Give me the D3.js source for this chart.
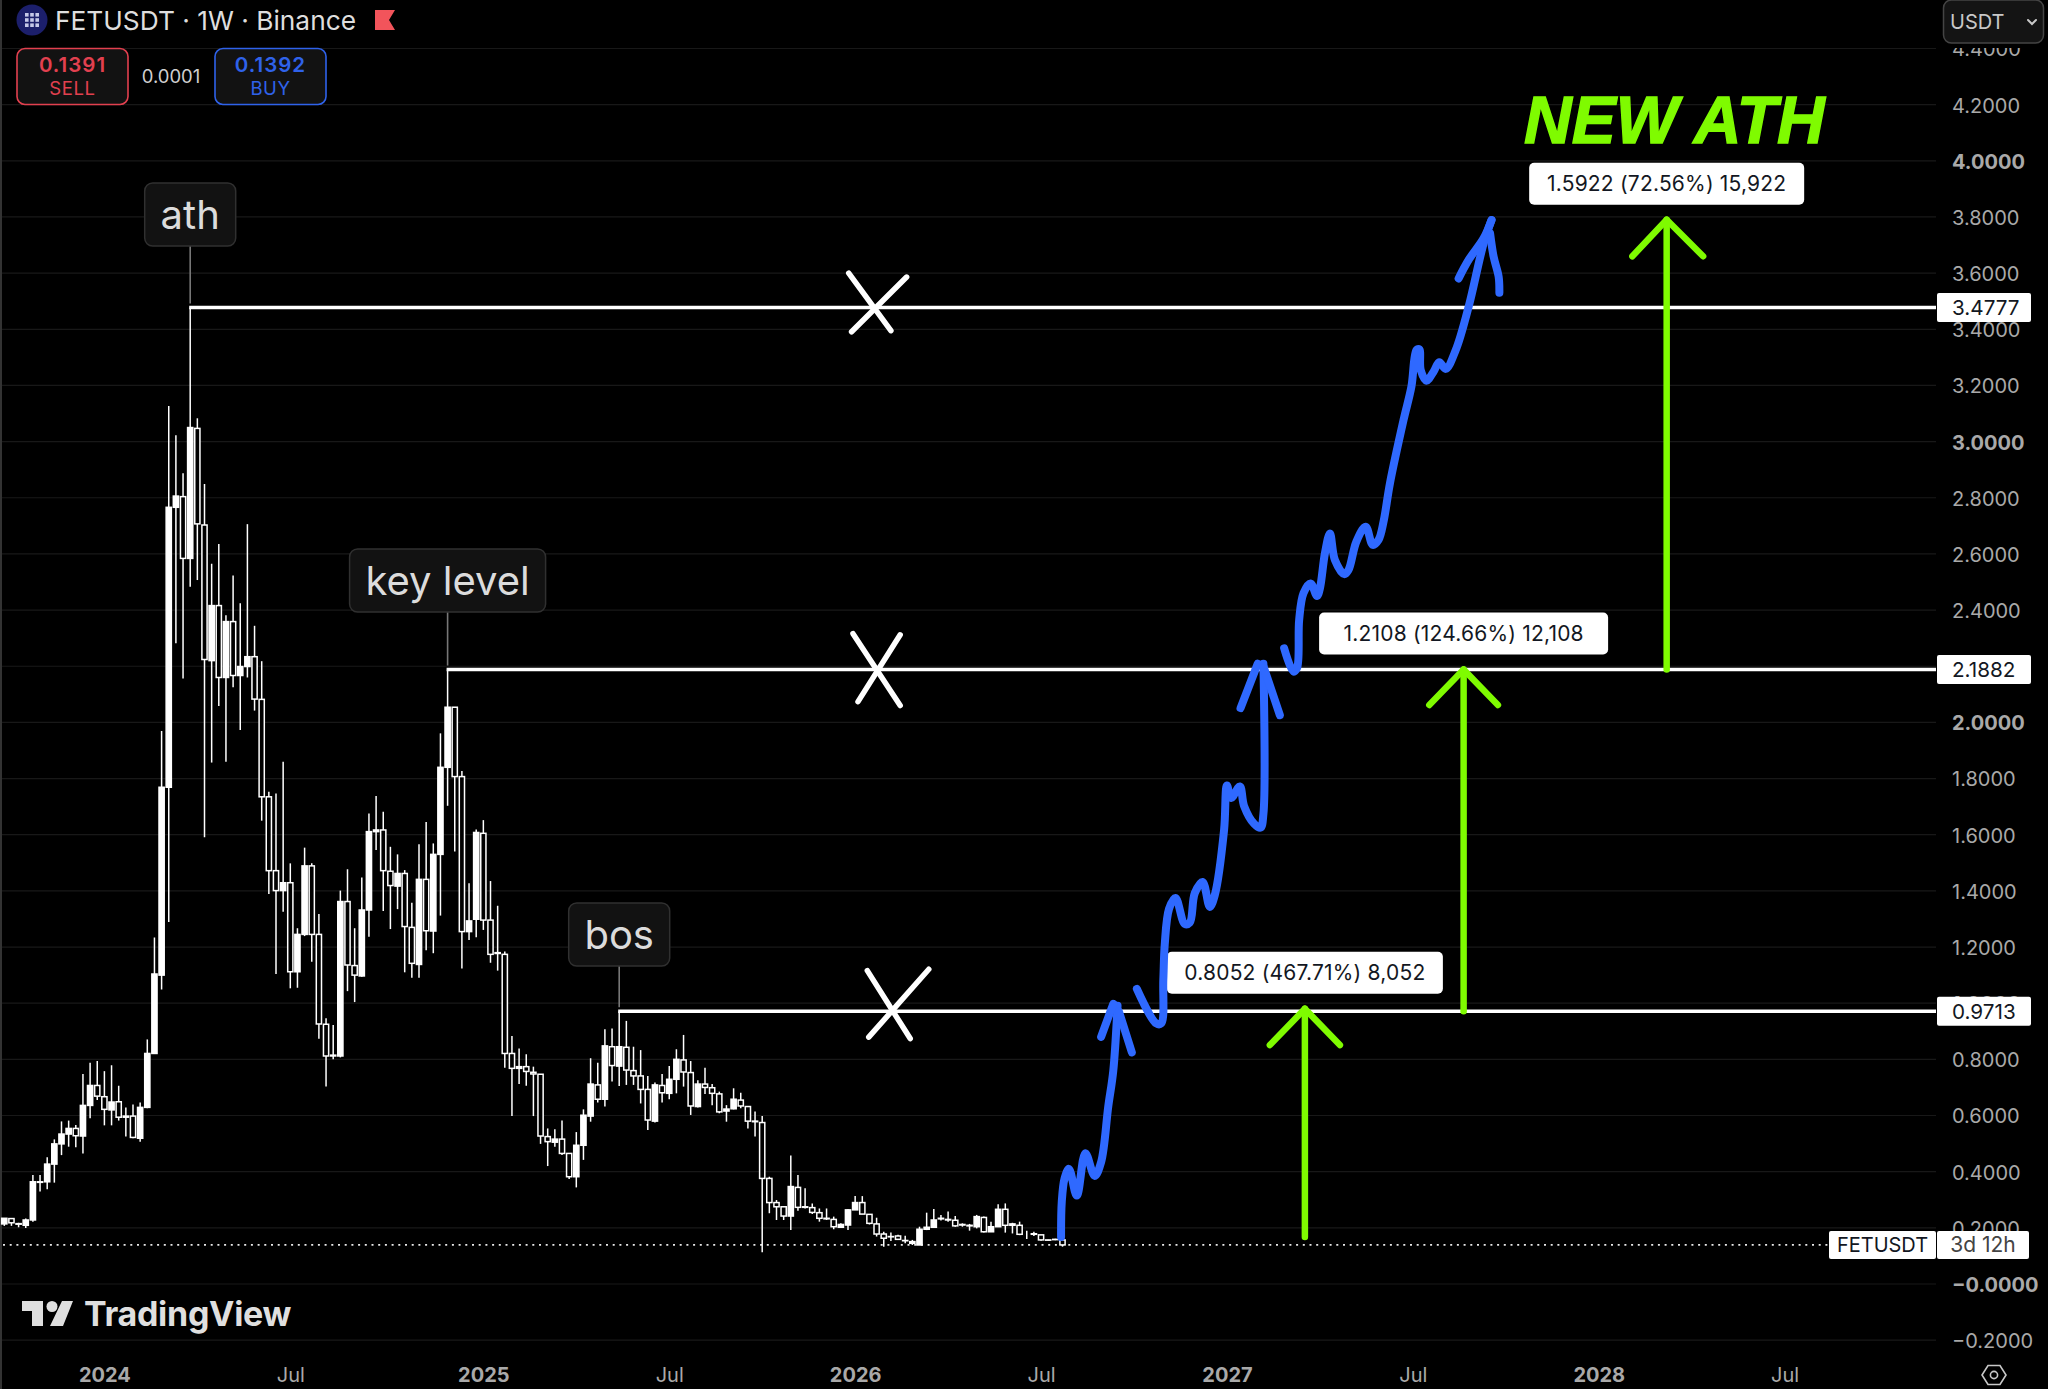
<!DOCTYPE html>
<html>
<head>
<meta charset="utf-8">
<script src="https://cdn.jsdelivr.net/npm/d3@7"></script>
<style>
  html, body { margin: 0; padding: 0; background: #000; }
  svg { display: block; }
  text { font-family: Inter, "Noto Sans", sans-serif; }
</style>
</head>
<body>
<div id="chart"></div>
<script>
// weekly candles
var opens = [
  .214,.233,.215,.209,.228,.364,.364,.427,.499,.534,
  .554,.527,.636,.707,.667,.62,.649,.594,.598,.519,
  .629,.821,1.10,1.769,2.766,2.804,2.584,3.047,2.703,2.22,
  2.416,2.16,2.359,2.167,2.199,2.234,2.082,1.735,1.472,1.401,
  1.429,1.112,1.245,1.489,1.245,.925,.812,.812,1.362,1.134,
  1.097,1.332,1.611,1.617,1.47,1.417,1.462,1.27,1.138,1.441,
  1.257,1.53,1.84,2.054,1.807,1.255,1.299,1.605,1.296,1.177,
  1.174,.821,.768,.774,.754,.747,.525,.505,.516,.465,
  .382,.494,.598,.709,.658,.845,.776,.843,.76,.741,
  .693,.58,.707,.679,.729,.798,.753,.632,.712,.699,
  .677,.616,.624,.655,.632,.58,.575,.376,.29,.275,
  .242,.344,.275,.272,.254,.234,.23,.202,.21,.264,
  .29,.248,.214,.178,.169,.171,.154,.145,.139,.195,
  .202,.234,.23,.227,.212,.209,.204,.237,.186,.204,
  .266,.209,.209,.178,.179,.175,.157,.159,.157
];
var closes = [
  .234,.218,.213,.228,.364,.362,.427,.499,.534,.554,
  .528,.636,.707,.669,.622,.648,.594,.598,.522,.629,
  .821,1.104,1.769,2.766,2.806,2.584,3.05,2.707,2.224,2.416,
  2.16,2.359,2.167,2.199,2.234,2.083,1.735,1.472,1.401,1.429,
  1.112,1.245,1.489,1.245,.926,.812,.815,1.362,1.136,1.10,
  1.332,1.611,1.617,1.472,1.419,1.462,1.273,1.142,1.441,1.258,
  1.53,1.84,2.054,1.807,1.255,1.293,1.608,1.296,1.174,1.18,
  .821,.768,.774,.757,.748,.527,.507,.516,.465,.382,
  .494,.601,.712,.658,.848,.778,.845,.762,.741,.693,
  .584,.709,.681,.729,.8,.755,.634,.712,.7,.679,
  .613,.623,.658,.634,.58,.578,.376,.29,.275,.242,
  .347,.273,.273,.255,.234,.232,.204,.212,.264,.29,
  .249,.216,.178,.163,.168,.159,.155,.151,.195,.202,
  .228,.232,.228,.207,.21,.207,.24,.186,.204,.266,
  .209,.214,.177,.178,.177,.157,.156,.158,.1392
];
var highs = [
  .234,.235,.218,.233,.388,.388,.451,.515,.579,.582,
  .566,.748,.788,.794,.758,.779,.706,.629,.639,.646,
  .871,1.234,1.969,3.127,3.023,2.887,3.4777,3.083,2.849,2.565,
  2.635,2.382,2.523,2.424,2.706,2.344,2.218,1.753,1.747,1.86,
  1.498,1.267,1.554,1.498,1.318,.946,.922,1.401,1.477,1.267,
  1.448,1.676,1.738,1.682,1.557,1.53,1.474,1.358,1.566,1.645,
  1.569,1.961,2.1882,2.054,1.827,1.427,1.619,1.652,1.435,1.347,
  1.184,.883,.839,.818,.774,.747,.554,.551,.582,.465,
  .541,.622,.804,.788,.907,.91,.9713,.937,.845,.833,
  .741,.718,.748,.776,.836,.887,.794,.726,.77,.712,
  .685,.637,.697,.681,.632,.614,.598,.382,.299,.275,
  .458,.388,.341,.287,.269,.269,.24,.216,.266,.313,
  .313,.248,.236,.186,.183,.175,.172,.157,.204,.254,
  .267,.246,.258,.242,.216,.214,.246,.24,.222,.284,
  .287,.218,.222,.19,.186,.175,.158,.161,.161
];
var lows = [
  .207,.207,.202,.199,.222,.329,.337,.361,.459,.489,
  .487,.465,.59,.655,.565,.565,.582,.525,.519,.507,
  .626,.82,1.049,1.289,2.282,2.156,2.483,2.507,1.591,1.857,
  2.058,1.86,2.125,1.973,2.16,2.042,1.65,1.389,1.104,1.326,
  1.053,1.055,1.239,1.148,.873,.703,.8,.807,1.043,1.004,
  1.094,1.237,1.546,1.328,1.264,1.335,1.11,1.091,1.091,1.189,
  1.178,1.312,1.703,1.54,1.124,1.225,1.235,1.261,1.144,1.116,
  .77,.598,.712,.706,.598,.499,.42,.489,.459,.374,
  .344,.442,.578,.646,.632,.721,.705,.709,.709,.643,
  .548,.575,.646,.658,.679,.703,.602,.629,.677,.637,
  .608,.578,.622,.626,.554,.525,.113,.252,.228,.228,
  .192,.261,.269,.249,.222,.228,.195,.2,.192,.264,
  .249,.212,.169,.133,.153,.157,.145,.139,.139,.192,
  .202,.226,.222,.204,.204,.19,.198,.183,.186,.204,
  .183,.18,.174,.16,.171,.154,.155,.156,.133
];

// axis ticks
var priceTicks = [4.4,4.2,4,3.8,3.6,3.4,3.2,3,2.8,2.6,2.4,2.2,2,1.8,1.6,1.4,1.2,1,.8,.6,.4,.2,0,-.2];
var timeTicks = [14,40,67,93,119,145,171,197,223,249];
var timeLabels = ["2024","Jul","2025","Jul","2026","Jul","2027","Jul","2028","Jul"];

// horizontal levels: [start candle, price, label]
var levelStart = [26,62,86];
var levelPrice = [3.4777,2.1882,.9713];
var levelNames = ["ath","key level","bos"];
var lastPrice = .1392;

// hand drawn blue projection, [candle, price]
var blueStrokes = [
  [[147.8,.167],[147.9,.294],[148.3,.377],[148.9,.41],[150,.315],[151.2,.466],[152.5,.385],[153.4,.434],[154.4,.632],[155.1,.759],[155.7,.991]],
  [[153.4,.88],[155.1,.998]],
  [[155.9,.97],[157.7,.825]],
  [[158.4,1.051],[161.1,.928],[161.8,.928],[162.1,1.083],[162.3,1.209],[162.9,1.336],[163.8,1.375],[165.1,1.282],[165.8,1.287],[166.5,1.392],[167.6,1.432],[168.6,1.343],[169.3,1.385],[170.6,1.617],[171,1.775],[171.6,1.731],[172.8,1.772],[173.4,1.702],[174.8,1.639],[175.7,1.625],[176.1,1.674],[176.1,2.209]],
  [[172.9,2.051],[175.3,2.209]],
  [[176.1,2.2],[178.4,2.026]],
  [[179,2.264],[180.3,2.181],[180.8,2.193],[181.1,2.365],[181.7,2.46],[182.7,2.495],[183.6,2.45],[184,2.477],[184.7,2.602],[185.4,2.673],[186.1,2.578],[187.4,2.528],[188,2.543],[189.1,2.644],[190.4,2.697],[191.4,2.632],[192.2,2.65],[192.9,2.715],[193.8,2.852],[195.7,3.077],[196.8,3.196],[197.5,3.326],[197.9,3.329],[198.1,3.255],[198.9,3.217],[199.9,3.249],[200.7,3.283],[201.6,3.259],[203,3.326],[204.8,3.48],[206.9,3.706],[208,3.789]],
  [[203.4,3.581],[204.8,3.647],[206.9,3.724],[208,3.789]],
  [[207.8,3.742],[208.3,3.658],[209,3.587],[209.1,3.53]]
];

// white crosses on the levels, [candle, price]
var crossStrokes = [
  [[118.1,3.6],[124,3.395]],
  [[126.2,3.586],[118.5,3.391]],
  [[118.7,2.316],[125.3,2.06]],
  [[125.3,2.312],[119.4,2.074]],
  [[120.7,1.116],[126.7,.874]],
  [[129.3,1.121],[120.9,.879]]
];

// green target arrows
var arrowX = [181.9,204.1,232.5];
var arrowFrom = [.167,.9713,2.1882];
var arrowTo = [.98,2.1882,3.79];
var arrowBarbY = [.851,2.062,3.66];
var arrowBarbL = [177,199.3,227.7];
var arrowBarbR = [186.8,208.9,237.6];
var arrowText = ["0.8052 (467.71%) 8,052","1.2108 (124.66%) 12,108","1.5922 (72.56%) 15,922"];

var width = 2048, height = 1389, plotRight = 1936;

var svg = d3.select("#chart").append("svg")
    .attr("width", width)
    .attr("height", height)
    .style("background", "#000");

var x = d3.scaleLinear().domain([0, 260]).range([4.3, 1863.3]);
var y = d3.scaleLinear().domain([0, 4]).range([1284, 160.8]);

// left edge and grid
svg.append("rect").attr("width", 2).attr("height", height).attr("fill", "#333");
svg.append("g").selectAll("line").data(priceTicks).enter().append("line")
    .attr("x1", 2).attr("x2", plotRight)
    .attr("y1", function(d) { return y(d); })
    .attr("y2", function(d) { return y(d); })
    .attr("stroke", "#181818").attr("stroke-width", 1.2);

// price axis
var yAxis = svg.append("g")
    .attr("transform", "translate(" + (plotRight + 1) + ",1)")
    .call(d3.axisRight(y).tickValues(priceTicks).tickSize(0).tickPadding(15)
      .tickFormat(function(d) {
        return (d <= 0 ? "\u2212" : "") + Math.abs(d).toFixed(4);
      }));
yAxis.select(".domain").remove();
yAxis.selectAll("text")
    .style("font-family", "Inter").style("font-size", "20px")
    .attr("fill", "#a9a9a9")
    .style("font-weight", function(d) { return d === Math.round(d) ? 700 : 400; });

// time axis
var xAxis = svg.append("g")
    .attr("transform", "translate(0,1365)")
    .call(d3.axisBottom(x).tickValues(timeTicks).tickSize(0).tickPadding(3)
      .tickFormat(function(d, i) { return timeLabels[i]; }));
xAxis.select(".domain").remove();
xAxis.selectAll("text")
    .style("font-family", "Inter").style("font-size", "20px")
    .attr("fill", "#a9a9a9")
    .style("font-weight", function(d, i) { return timeLabels[i] === "Jul" ? 400 : 700; });

// current price dots
svg.append("line")
    .attr("x1", 3).attr("x2", 1829)
    .attr("y1", y(lastPrice)).attr("y2", y(lastPrice))
    .attr("stroke", "#e8e8e8").attr("stroke-width", 1.6)
    .attr("stroke-dasharray", "2 4.7");

// candles
var candles = svg.append("g").selectAll("g").data(opens).enter().append("g");
candles.append("line")
    .attr("x1", function(d, i) { return x(i); })
    .attr("x2", function(d, i) { return x(i); })
    .attr("y1", function(d, i) { return y(highs[i]); })
    .attr("y2", function(d, i) { return y(lows[i]); })
    .attr("stroke", "#fff").attr("stroke-width", 1.5);
candles.append("rect")
    .attr("x", function(d, i) { return x(i) - 2.6; })
    .attr("width", 5.2)
    .attr("y", function(d, i) { return y(Math.max(d, closes[i])); })
    .attr("height", function(d, i) { return Math.abs(y(d) - y(closes[i])); })
    .attr("fill", function(d, i) { return closes[i] >= d ? "#fff" : "#000"; })
    .attr("stroke", "#fff").attr("stroke-width", 1.5);

// level rays and their callouts
var calloutW = [91,196,101];
levelPrice.forEach(function(p, i) {
  var px = x(levelStart[i]), py = y(p);
  svg.append("line")
    .attr("x1", px - 1).attr("x2", plotRight)
    .attr("y1", py).attr("y2", py)
    .attr("stroke", "#fff").attr("stroke-width", 3.4);
  var top = [183,549,903][i], h = 63;
  svg.append("line")
    .attr("x1", px).attr("x2", px)
    .attr("y1", top + h).attr("y2", py - 4)
    .attr("stroke", "#777").attr("stroke-width", 1.6);
  svg.append("rect")
    .attr("x", px - calloutW[i] / 2).attr("y", top)
    .attr("width", calloutW[i]).attr("height", h).attr("rx", 8)
    .attr("fill", "#121212").attr("stroke", "#303030").attr("stroke-width", 1.5);
  svg.append("text")
    .attr("x", px).attr("y", top + 46)
    .attr("text-anchor", "middle")
    .attr("fill", "#dcdcdc").style("font-size", "40px")
    .text(levelNames[i]);
});

var line = d3.line()
    .x(function(d) { return x(d[0]); })
    .y(function(d) { return y(d[1]); });

// crosses
svg.append("g").selectAll("path").data(crossStrokes).enter().append("path")
    .attr("d", line)
    .attr("fill", "none").attr("stroke", "#fff")
    .attr("stroke-width", 5.5).attr("stroke-linecap", "round");

// green arrows
arrowX.forEach(function(ax, i) {
  var g = svg.append("g").attr("fill", "none").attr("stroke", "#7ffb00")
      .attr("stroke-width", 6.5).attr("stroke-linecap", "round").attr("stroke-linejoin", "round");
  g.append("path").attr("d", line([[ax, arrowFrom[i]], [ax, arrowTo[i]]]));
  g.append("path").attr("d", line([[arrowBarbL[i], arrowBarbY[i]], [ax, arrowTo[i]], [arrowBarbR[i], arrowBarbY[i]]]));

  var boxW = [276,289,275][i];
  var by = y(arrowTo[i]) - 57;
  svg.append("rect")
    .attr("x", x(ax) - boxW / 2).attr("y", by)
    .attr("width", boxW).attr("height", 42).attr("rx", 5)
    .attr("fill", "#fff");
  svg.append("text")
    .attr("x", x(ax)).attr("y", by + 28)
    .attr("text-anchor", "middle")
    .attr("fill", "#131722").style("font-size", "21px").style("letter-spacing", "0.2px")
    .text(arrowText[i]);
});

// blue projection
svg.append("g").selectAll("path").data(blueStrokes).enter().append("path")
    .attr("d", line.curve(d3.curveCatmullRom.alpha(0.5)))
    .attr("fill", "none").attr("stroke", "#2f69ff")
    .attr("stroke-width", 8).attr("stroke-linecap", "round").attr("stroke-linejoin", "round");

svg.append("text")
    .attr("x", 1524).attr("y", 143)
    .attr("fill", "#7ffb00").attr("stroke", "#7ffb00").attr("stroke-width", 1.4)
    .style("font-family", "'Liberation Sans'")
    .style("font-size", "66px").style("font-weight", 700).style("font-style", "italic")
    .text("NEW ATH");

// price tags on the axis
levelPrice.forEach(function(p) {
  svg.append("rect")
    .attr("x", plotRight + 1).attr("y", y(p) - 14.5)
    .attr("width", 94).attr("height", 29).attr("rx", 2)
    .attr("fill", "#fff");
  svg.append("text")
    .attr("x", plotRight + 16).attr("y", y(p) + 7.5)
    .attr("fill", "#131722").style("font-size", "20.7px")
    .text(p.toFixed(4));
});

// symbol tag and countdown
svg.append("rect").attr("x", 1829).attr("y", y(lastPrice) - 14).attr("width", 107).attr("height", 28).attr("rx", 2).attr("fill", "#fff");
svg.append("rect").attr("x", 1937).attr("y", y(lastPrice) - 14).attr("width", 92).attr("height", 28).attr("rx", 2).attr("fill", "#fff");
svg.append("text").attr("x", 1882.5).attr("y", y(lastPrice) + 7).attr("text-anchor", "middle")
    .attr("fill", "#131722").style("font-size", "20px").text("FETUSDT");
svg.append("text").attr("x", 1983).attr("y", y(lastPrice) + 7).attr("text-anchor", "middle")
    .attr("fill", "#444").style("font-size", "21px").text("3d 12h");

// header
var icon = svg.append("g").attr("transform", "translate(32,20)");
icon.append("circle").attr("r", 15.5).attr("fill", "#1c1f6b");
d3.range(3).forEach(function(r) {
  d3.range(3).forEach(function(c) {
    icon.append("rect")
      .attr("x", -7 + c * 5.2).attr("y", -7 + r * 5.2)
      .attr("width", 3.6).attr("height", 3.6)
      .attr("fill", "#c5c8e8");
  });
});
svg.append("text").attr("x", 55).attr("y", 30)
    .attr("fill", "#dedede").style("font-size", "26.3px")
    .text("FETUSDT \u00b7 1W \u00b7 Binance");
svg.append("path")
    .attr("d", "M375 10H395L389 20L395 30H375Z")
    .attr("fill", "#f2545b");

function tradeBox(bx, color, price, side) {
  svg.append("rect")
    .attr("x", bx).attr("y", 48.5).attr("width", 111).attr("height", 56).attr("rx", 8)
    .attr("fill", "#121212").attr("stroke", color).attr("stroke-width", 1.6);
  svg.append("text").attr("x", bx + 55.5).attr("y", 72).attr("text-anchor", "middle")
    .attr("fill", color).style("font-size", "20.5px").style("font-weight", 600)
    .style("letter-spacing", "1px").text(price);
  svg.append("text").attr("x", bx + 55.5).attr("y", 95).attr("text-anchor", "middle")
    .attr("fill", color).style("font-size", "18.5px").style("letter-spacing", "0.6px").text(side);
}
tradeBox(17, "#e2404f", "0.1391", "SELL");
tradeBox(215, "#2f62ea", "0.1392", "BUY");
svg.append("text").attr("x", 171).attr("y", 83).attr("text-anchor", "middle")
    .attr("fill", "#cfcfcf").style("font-size", "18.5px").text("0.0001");

// currency button, with the clear strip that cuts the top tick under it
svg.append("rect").attr("x", 1937).attr("y", 0).attr("width", 111).attr("height", 48).attr("fill", "#000");
svg.append("rect").attr("x", 1943.5).attr("y", 0).attr("width", 100).attr("height", 43).attr("rx", 8)
    .attr("fill", "#141414").attr("stroke", "#444").attr("stroke-width", 1.5);
svg.append("text").attr("x", 1950).attr("y", 29).attr("fill", "#c8c8c8").style("font-size", "20px").text("USDT");
svg.append("path").attr("d", "M2028 20L2032 24L2036 20")
    .attr("fill", "none").attr("stroke", "#c8c8c8").attr("stroke-width", 2).attr("stroke-linecap", "round");

// logo
svg.append("path")
    .attr("fill", "#dfdfdf")
    .attr("d", "M22 1301H43V1326H32V1311H22ZM62 1301H73L63 1326H50Z");
svg.append("circle").attr("cx", 52).attr("cy", 1306.5).attr("r", 5.5).attr("fill", "#dfdfdf");
svg.append("text").attr("x", 84).attr("y", 1326)
    .attr("fill", "#dfdfdf").style("font-size", "34px").style("font-weight", 700)
    .style("letter-spacing", "-0.3px").text("TradingView");

// settings hexagon
svg.append("path")
    .attr("d", d3.range(6).map(function(i) {
      var a = i * Math.PI / 3;
      return (i ? "L" : "M") + (1994 + 12 * Math.cos(a)).toFixed(1) + " " + (1375 + 11 * Math.sin(a)).toFixed(1);
    }).join("") + "Z")
    .attr("fill", "none").attr("stroke", "#c8c8c8").attr("stroke-width", 1.6);
svg.append("circle").attr("cx", 1994).attr("cy", 1375).attr("r", 3.6)
    .attr("fill", "none").attr("stroke", "#c8c8c8").attr("stroke-width", 1.6);
</script>
</body>
</html>
